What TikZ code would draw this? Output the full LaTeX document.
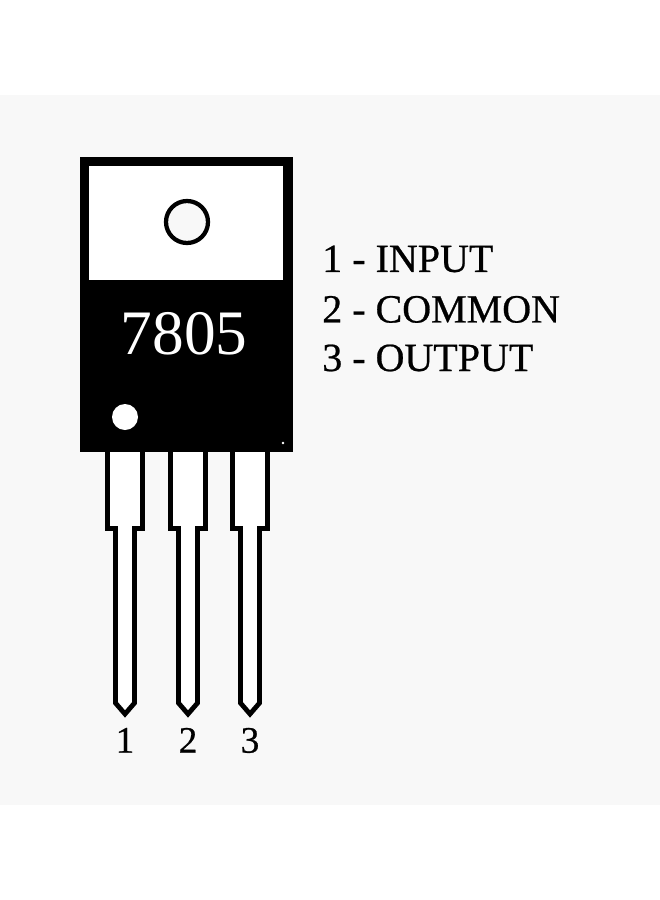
\documentclass[tikz,border=0pt]{standalone}
\usepackage{fontspec}
\setmainfont{Liberation Serif}
\newfontfamily\heavyserif[FakeBold=0.6]{Liberation Serif}
\usetikzlibrary{positioning}

\definecolor{paper}{HTML}{F8F8F8}
\tikzset{
	leg/.style={draw=black, line width=3.6pt, line join=miter, fill=white},
	legnum/.style={inner sep=0pt, font=\heavyserif\fontsize{28}{28}\selectfont},
	pinline/.style={inner sep=0pt, text height=20pt, text depth=1pt, font=\heavyserif\fontsize{30}{30}\selectfont},
}

\begin{document}
\begin{tikzpicture}[x=0.75pt, y=-0.75pt]
	\useasboundingbox (0,0) rectangle (660,900);
	\fill[white] (0,0) rectangle (660,900);
	\fill[paper] (0,95) rectangle (660,805);

	% legs
	\foreach \wx/\nx/\num in {125/125/1, 188/188/2, 250/250/3} {
		\draw[leg] (\wx-17.5,450) -- (\wx-17.5,528.5) -- (\nx-9.5,528.5) -- (\nx-9.5,703)
			-- (\nx,714) -- (\nx+9.5,703) -- (\nx+9.5,528.5) -- (\wx+17.5,528.5) -- (\wx+17.5,450);
		\coordinate (tip\num) at (\nx,717);
		\node[legnum, below=8pt of tip\num] (leg\num) {\num};
	}

	% package
	\fill[black] (80,157) rectangle (293,452);
	\fill[white] (89,166) rectangle (283,280);
	\draw[black, line width=3.2pt, fill=paper] (187,222) circle (21);
	\fill[white] (125,417) circle (13);
	\fill[white] (283,443) circle (1.3);
	\node[inner sep=0pt, text=white, font=\fontsize{47.5}{48}\selectfont] (part) at (184,334) {7805};

	% pin list
	\node[pinline, anchor=north west] (input) at (322,245) {1 - INPUT};
	\node[pinline, below=16.5pt of input.south west, anchor=north west] (common) {2 - COMMON};
	\node[pinline, below=15pt of common.south west, anchor=north west] (output) {3 - OUTPUT};
\end{tikzpicture}
\end{document}
